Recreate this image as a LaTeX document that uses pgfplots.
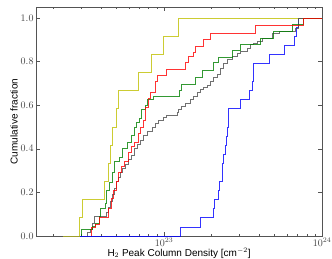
\documentclass[border=0pt]{standalone}
\usepackage{fontspec}
\setmainfont{Liberation Sans}
\usepackage{pgfplots}
\pgfplotsset{compat=1.18}
\definecolor{cy}{rgb}{0.75,0.75,0}
\definecolor{cg}{rgb}{0,0.5,0}
\definecolor{ck}{rgb}{0.3,0.3,0.3}
\definecolor{ax}{rgb}{0.33,0.33,0.33}
\begin{document}
\begin{tikzpicture}
\useasboundingbox (-36pt,-22pt) rectangle (296pt,236pt);
\begin{axis}[at={(0,0)}, anchor=south west, scale only axis,
 width=286pt, height=229pt,
 xmode=log, xmin=1.55e22, xmax=1e24, ymin=0, ymax=1.05,
 xtick={1e23,1e24},
 minor xtick={2e22,3e22,4e22,5e22,6e22,7e22,8e22,9e22,2e23,3e23,4e23,5e23,6e23,7e23,8e23,9e23},
 ytick={0,0.2,0.4,0.6,0.8,1.0},
 yticklabel style={/pgf/number format/fixed, /pgf/number format/fixed zerofill, /pgf/number format/precision=1, xshift=1pt},
 xticklabel style={yshift=1.5pt},
 tick align=inside, major tick length=4pt, minor tick length=2pt,
 axis line style={ax}, tick style={ax, line width=0.4pt},
 ticklabel style={text=black!75},
 xlabel={H$_2$ Peak Column Density [$\mathrm{cm}^{-2}$]},
 ylabel={Cumulative fraction},
 xlabel style={at={(axis description cs:0.5,-0.088)}, anchor=base},
 ylabel style={at={(axis description cs:-0.077,0.5)}, anchor=center},
 every axis plot/.append style={const plot, line width=0.8pt, opacity=0.8, mark=none},
]
\addplot[blue] coordinates {(2.307e22,0) (1.264e23,0.0417) (1.696e23,0.0833) (2.061e23,0.125) (2.091e23,0.1667) (2.218e23,0.2083) (2.250e23,0.25) (2.331e23,0.2917) (2.358e23,0.3333) (2.393e23,0.375) (2.429e23,0.4167) (2.483e23,0.4583) (2.530e23,0.5) (2.557e23,0.5417) (2.568e23,0.5833) (3.048e23,0.625) (3.494e23,0.6667) (3.635e23,0.7083) (3.689e23,0.75) (3.705e23,0.7917) (4.644e23,0.8333) (5.753e23,0.875) (6.661e23,0.9167) (6.931e23,0.9583) (7.106e23,1) (1e24,1)};
\addplot[cy] coordinates {(2.307e22,0) (2.917e22,0.0833) (3.026e22,0.1667) (4.210e22,0.25) (4.464e22,0.3333) (4.597e22,0.4167) (4.734e22,0.5) (5.019e22,0.5833) (5.169e22,0.6667) (6.931e22,0.75) (8.325e22,0.8333) (9.854e22,0.9167) (1.228e23,1) (1e24,1)};
\addplot[ck] coordinates {(3.280e22,0) (3.280e22,0.015) (3.428e22,0.03) (3.530e22,0.06) (3.635e22,0.092) (4.335e22,0.11) (4.464e22,0.13) (4.597e22,0.16) (4.734e22,0.19) (4.874e22,0.22) (5.019e22,0.25) (5.169e22,0.27) (5.323e22,0.29) (5.481e22,0.31) (5.728e22,0.33) (5.985e22,0.35) (6.254e22,0.37) (6.536e22,0.40) (6.830e22,0.42) (7.137e22,0.44) (7.458e22,0.46) (7.908e22,0.48) (8.386e22,0.50) (8.764e22,0.515) (9.158e22,0.53) (9.898e22,0.546) (1.040e23,0.552) (1.210e23,0.565) (1.233e23,0.579) (1.283e23,0.595) (1.361e23,0.61) (1.464e23,0.625) (1.537e23,0.64) (1.615e23,0.66) (1.696e23,0.67) (1.780e23,0.68) (1.871e23,0.69) (1.963e23,0.709) (2.052e23,0.725) (2.166e23,0.74) (2.274e23,0.77) (2.376e23,0.79) (2.508e23,0.81) (2.699e23,0.824) (2.904e23,0.839) (3.048e23,0.847) (3.363e23,0.862) (3.530e23,0.877) (3.705e23,0.885) (3.895e23,0.893) (4.210e23,0.908) (4.874e23,0.927) (5.401e23,0.939) (6.760e23,0.954) (7.137e23,1) (1e24,1)};
\addplot[cg] coordinates {(2.991e22,0) (2.991e22,0.029) (3.530e22,0.044) (3.662e22,0.059) (3.912e22,0.088) (3.969e22,0.125) (4.271e22,0.15) (4.335e22,0.21) (4.530e22,0.245) (4.734e22,0.29) (4.874e22,0.34) (5.245e22,0.36) (5.481e22,0.40) (5.898e22,0.43) (6.209e22,0.46) (6.536e22,0.50) (6.730e22,0.52) (7.033e22,0.54) (7.242e22,0.58) (7.680e22,0.60) (7.851e22,0.625) (8.573e22,0.638) (1.246e23,0.667) (1.283e23,0.697) (1.583e23,0.728) (1.746e23,0.758) (2.043e23,0.794) (2.198e23,0.82) (2.711e23,0.85) (3.048e23,0.877) (4.046e23,0.908) (4.925e23,0.936) (6.536e23,0.97) (7.646e23,1) (1e24,1)};
\addplot[red] coordinates {(3.479e22,0) (3.479e22,0.041) (3.689e22,0.052) (3.912e22,0.085) (4.431e22,0.128) (4.630e22,0.174) (4.803e22,0.21) (4.997e22,0.25) (5.169e22,0.29) (5.401e22,0.32) (5.644e22,0.34) (5.924e22,0.385) (6.227e22,0.41) (6.536e22,0.43) (6.931e22,0.47) (7.137e22,0.50) (7.382e22,0.53) (7.646e22,0.59) (7.943e22,0.63) (8.228e22,0.66) (8.764e22,0.71) (9.024e22,0.737) (1.040e23,0.763) (1.361e23,0.794) (1.422e23,0.824) (1.530e23,0.84) (1.576e23,0.87) (1.780e23,0.90) (1.963e23,0.931) (3.815e23,0.966) (7.646e23,1) (1e24,1)};
\end{axis}
\end{tikzpicture}
\end{document}
